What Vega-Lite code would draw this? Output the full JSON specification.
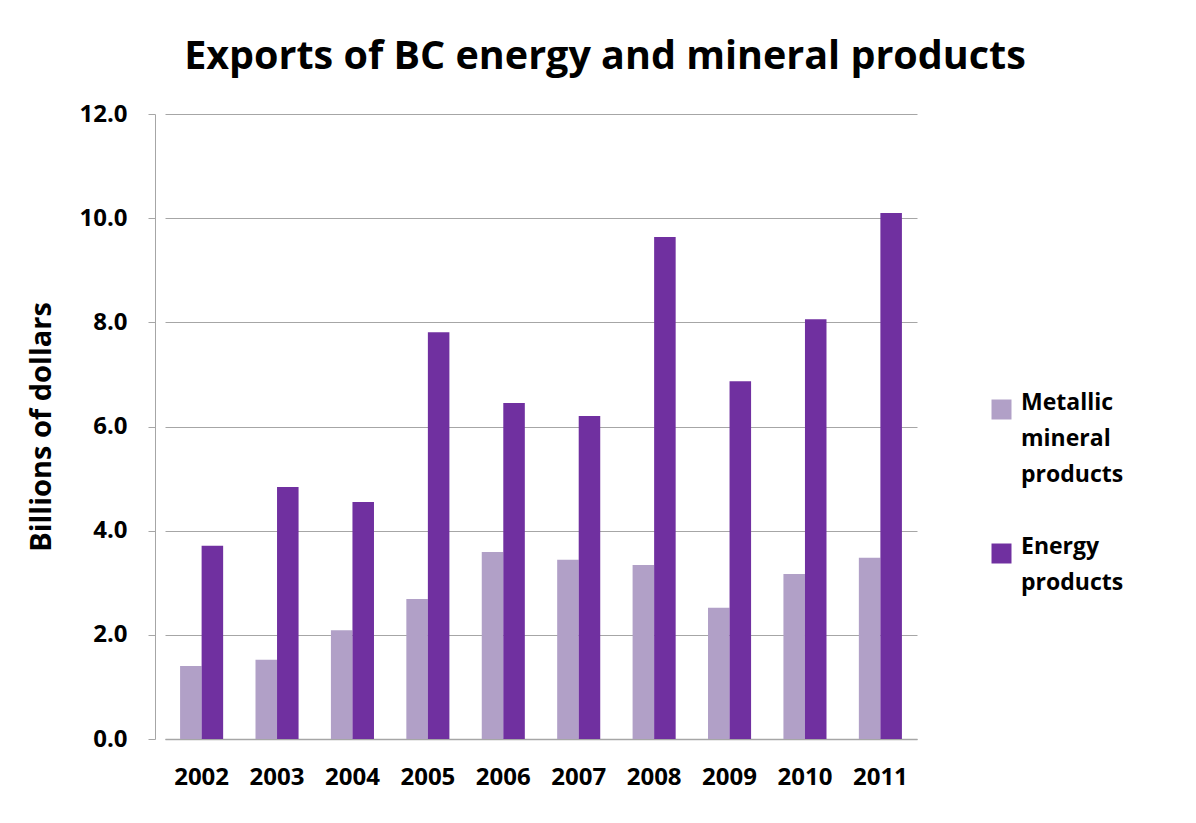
{
  "$schema": "https://vega.github.io/schema/vega-lite/v6.json",
  "width": 762,
  "height": 625,
  "autosize": "none",
  "padding": {"left": 155, "top": 114, "right": 279, "bottom": 84},
  "background": "white",
  "title": {
    "text": "Exports of BC energy and mineral products",
    "font": "Open Sans",
    "fontSize": 39.5,
    "fontWeight": "bold",
    "color": "black",
    "anchor": "middle",
    "dx": 69,
    "offset": 25
  },
  "data": {
    "values": [
      {"year": "2002", "series": "Metallic mineral products", "value": 1.40},
      {"year": "2002", "series": "Energy products", "value": 3.71},
      {"year": "2003", "series": "Metallic mineral products", "value": 1.52},
      {"year": "2003", "series": "Energy products", "value": 4.84},
      {"year": "2004", "series": "Metallic mineral products", "value": 2.09},
      {"year": "2004", "series": "Energy products", "value": 4.55},
      {"year": "2005", "series": "Metallic mineral products", "value": 2.69},
      {"year": "2005", "series": "Energy products", "value": 7.81},
      {"year": "2006", "series": "Metallic mineral products", "value": 3.59},
      {"year": "2006", "series": "Energy products", "value": 6.45},
      {"year": "2007", "series": "Metallic mineral products", "value": 3.44},
      {"year": "2007", "series": "Energy products", "value": 6.20},
      {"year": "2008", "series": "Metallic mineral products", "value": 3.34},
      {"year": "2008", "series": "Energy products", "value": 9.64},
      {"year": "2009", "series": "Metallic mineral products", "value": 2.52},
      {"year": "2009", "series": "Energy products", "value": 6.87},
      {"year": "2010", "series": "Metallic mineral products", "value": 3.17},
      {"year": "2010", "series": "Energy products", "value": 8.06},
      {"year": "2011", "series": "Metallic mineral products", "value": 3.48},
      {"year": "2011", "series": "Energy products", "value": 10.10}
    ]
  },
  "mark": {"type": "bar"},
  "encoding": {
    "x": {
      "field": "year",
      "type": "nominal",
      "scale": {"paddingInner": 0.429, "paddingOuter": 0.2, "range": [10, 762]},
      "axis": {
        "title": null,
        "labelAngle": 0,
        "labelFont": "Open Sans",
        "labelFontSize": 24,
        "labelFontWeight": "bold",
        "labelColor": "black",
        "labelPadding": 26,
        "ticks": false,
        "domainColor": "#a6a6a6",
        "domainWidth": 1.5,
        "grid": false
      }
    },
    "xOffset": {
      "field": "series",
      "type": "nominal",
      "sort": ["Metallic mineral products", "Energy products"],
      "scale": {"paddingInner": 0, "paddingOuter": 0}
    },
    "y": {
      "field": "value",
      "type": "quantitative",
      "scale": {"domain": [0, 12], "nice": false},
      "axis": {
        "title": "Billions of dollars",
        "titleFont": "Open Sans",
        "titleFontSize": 29,
        "titleFontWeight": "bold",
        "titleColor": "black",
        "titlePadding": 22,
        "values": [0, 2, 4, 6, 8, 10, 12],
        "format": ".1f",
        "labelFont": "Open Sans",
        "labelFontSize": 24,
        "labelFontWeight": "bold",
        "labelColor": "black",
        "labelPadding": 21,
        "tickColor": "#a6a6a6",
        "tickSize": 7,
        "domainColor": "#a6a6a6",
        "gridColor": "#a6a6a6",
        "gridWidth": 1
      }
    },
    "color": {
      "field": "series",
      "type": "nominal",
      "sort": ["Metallic mineral products", "Energy products"],
      "scale": {
        "domain": ["Metallic mineral products", "Energy products"],
        "range": ["#b1a0c7", "#7030a0"]
      },
      "legend": {
        "title": null,
        "orient": "none",
        "legendX": 835,
        "legendY": 284,
        "symbolType": "square",
        "symbolSize": 400,
        "symbolStrokeWidth": 0,
        "symbolOpacity": 1,
        "labelFont": "Open Sans",
        "labelFontSize": 23,
        "labelFontWeight": "bold",
        "labelColor": "black",
        "labelOffset": 8,
        "labelLimit": 300,
        "labelBaseline": "alphabetic",
        "labelExpr": "datum.label == 'Metallic mineral products' ? ['Metallic', 'mineral', 'products'] : ['Energy', 'products']",
        "rowPadding": 48
      }
    }
  },
  "config": {
    "view": {"stroke": null},
    "style": {"guide-label": {"lineHeight": 36}}
  }
}
